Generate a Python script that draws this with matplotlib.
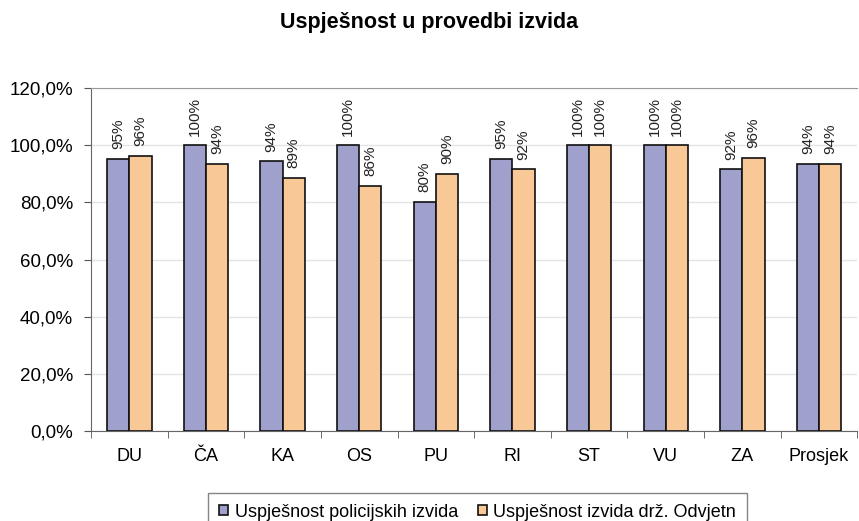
import numpy as np
import matplotlib.pyplot as plt
from matplotlib.ticker import FuncFormatter, FixedLocator

plt.rcParams['font.family'] = ['Liberation Sans', 'DejaVu Sans']

categories = ['DU', 'ČA', 'KA', 'OS', 'PU', 'RI', 'ST', 'VU', 'ZA', 'Prosjek']
policija = [95.3, 100.0, 94.4, 100.0, 80.3, 95.2, 100.0, 100.0, 91.6, 93.6]
odvjetnistvo = [96.3, 93.6, 88.7, 85.7, 89.9, 91.6, 100.0, 100.0, 95.6, 93.6]
series_names = ['Uspješnost policijskih izvida', 'Uspješnost izvida drž. Odvjetn']
colors = ['#A0A0CC', '#F8C896']

fig = plt.figure(figsize=(8.59, 5.21), dpi=100)
ax = fig.add_axes([0.106, 0.1727, 0.892, 0.658])

x = np.arange(len(categories))
width = 0.29
b1 = ax.bar(x - width / 2, policija, width, color=colors[0], edgecolor='#111111',
            linewidth=1.2, label=series_names[0], zorder=3)
b2 = ax.bar(x + width / 2, odvjetnistvo, width, color=colors[1], edgecolor='#111111',
            linewidth=1.2, label=series_names[1], zorder=3)

# rotated value labels above the bars
for bars in (b1, b2):
    for rect in bars:
        h = rect.get_height()
        ax.annotate(f'{round(h):.0f}%',
                    xy=(rect.get_x() + rect.get_width() / 2, h),
                    xytext=(0, 7), textcoords='offset points',
                    ha='center', va='bottom', rotation=90, fontsize=11,
                    color='#222222')

ax.set_ylim(0, 120)
ax.set_xlim(-0.5, len(categories) - 0.5)
ax.set_yticks(np.arange(0, 121, 20))
ax.yaxis.set_major_formatter(FuncFormatter(lambda v, p: f'{v:.1f}%'.replace('.', ',')))
ax.set_xticks(x)
ax.set_xticklabels(categories, fontsize=13)
ax.xaxis.set_minor_locator(FixedLocator(np.arange(-0.5, len(categories), 1)))
ax.tick_params(axis='x', which='major', length=0, pad=12)
ax.tick_params(axis='x', which='minor', length=5, color='#555555')
ax.tick_params(axis='y', labelsize=13.5, length=5, color='#555555', pad=8)

ax.grid(axis='y', color='#E4E4E4', linewidth=1, zorder=0)
ax.spines['right'].set_visible(False)
ax.spines['top'].set_color('#999999')
ax.spines['left'].set_color('#666666')
ax.spines['bottom'].set_color('#666666')

fig.text(0.5, 0.957, 'Uspješnost u provedbi izvida', ha='center', va='center',
         fontsize=15.5, fontweight='bold')

fig.legend(handles=[b1, b2], loc='upper center', bbox_to_anchor=(0.556, 0.054),
           ncol=2, fontsize=13, frameon=True, fancybox=False, edgecolor='#666666',
           handlelength=0.5, handleheight=0.5, handletextpad=0.35, columnspacing=1.1,
           borderpad=0.6, borderaxespad=0)

fig.savefig('out.png', dpi=100)
